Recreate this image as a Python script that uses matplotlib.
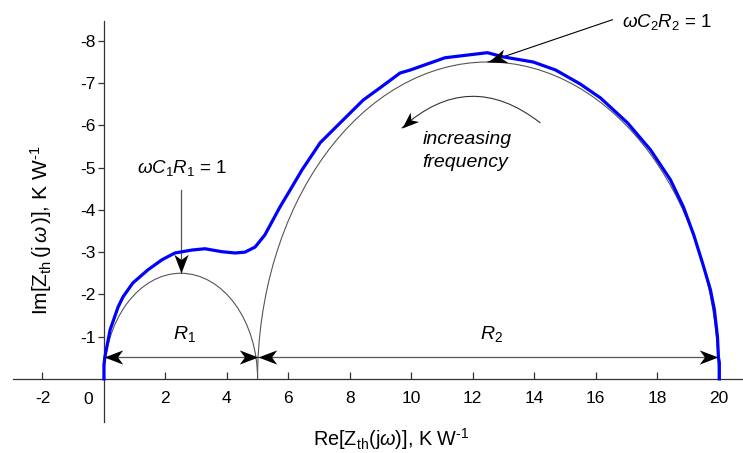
import numpy as np
import matplotlib
matplotlib.use("Agg")
import matplotlib.pyplot as plt
from matplotlib.patches import Arc, FancyArrowPatch
from matplotlib.markers import MarkerStyle
from matplotlib.path import Path
from matplotlib.transforms import Affine2D

plt.rcParams['font.family'] = ['Liberation Sans', 'DejaVu Sans']
plt.rcParams['axes.unicode_minus'] = False
plt.rcParams['mathtext.fontset'] = 'custom'
plt.rcParams['mathtext.rm'] = 'Liberation Sans'
plt.rcParams['mathtext.it'] = 'Liberation Sans:italic'

# thermal impedance locus, K/W
re_z = [0.0, 0.0, 0.03, 0.2, 0.46, 0.62, 0.94, 1.43, 1.89, 2.31, 2.87, 3.29,
        3.84, 4.27, 4.59, 4.92, 5.24, 5.5, 5.73, 6.06, 6.45, 7.04, 7.69, 8.44,
        8.99, 9.64, 9.97, 11.1, 12.48, 13.0, 13.97, 14.7, 15.5, 16.16, 17.04,
        17.79, 18.44, 18.86, 19.2, 19.5, 19.74, 19.87, 19.97, 20.0, 20.03, 20.03]
im_z = [0.0, -0.33, -0.52, -1.16, -1.7, -1.94, -2.27, -2.58, -2.82, -2.98, -3.05, -3.08,
        -3.01, -2.98, -3.0, -3.12, -3.41, -3.76, -4.07, -4.47, -4.95, -5.59, -6.06, -6.6,
        -6.89, -7.24, -7.31, -7.6, -7.72, -7.62, -7.5, -7.31, -6.98, -6.65, -6.06,
        -5.42, -4.71, -4.07, -3.4, -2.7, -2.11, -1.63, -0.99, -0.52, -0.38, 0.0]

# RC stages
R1 = 5.0
R2 = 15.0
dim_y = -0.52

x_ticks = [-2, 2, 4, 6, 8, 10, 12, 14, 16, 18, 20]
y_ticks = [-8, -7, -6, -5, -4, -3, -2, -1]

# concave arrow head, tip at origin, pointing right
HEAD = Path([(0, 0), (-1, 0.38), (-0.72, 0), (-1, -0.38), (0, 0)],
            [Path.MOVETO, Path.LINETO, Path.LINETO, Path.LINETO, Path.CLOSEPOLY])


def head(ax, tip, frm, ms=27):
    p1 = ax.transData.transform(frm)
    p2 = ax.transData.transform(tip)
    ang = np.degrees(np.arctan2(p2[1] - p1[1], p2[0] - p1[0]))
    m = MarkerStyle(HEAD, transform=Affine2D().rotate_deg(ang))
    ax.plot([tip[0]], [tip[1]], marker=m, ms=ms, color='black', mew=0,
            clip_on=False, zorder=6)


fig = plt.figure(figsize=(7.43, 4.53), dpi=100)
ax = fig.add_axes([13 / 743, 31 / 453, 730 / 743, 401 / 453])
ax.set_xlim(-2.96, 20.8)
ax.set_ylim(1.02, -8.47)

for s in ['top', 'right']:
    ax.spines[s].set_visible(False)
ax.spines['left'].set_position(('data', 0))
ax.spines['bottom'].set_position(('data', 0))
for s in ['left', 'bottom']:
    ax.spines[s].set_color('#333333')
    ax.spines[s].set_linewidth(0.9)

ax.set_xticks(x_ticks)
ax.set_yticks(y_ticks)
ax.tick_params(axis='x', direction='in', length=5, width=0.9, color='#333333',
               labelsize=12.5, pad=9)
ax.tick_params(axis='y', direction='out', length=4, width=0.9, color='#333333',
               labelsize=12.5, pad=2)
ax.text(-0.5, 0.32, '0', fontsize=12.5, ha='center', va='top')

# ideal semicircles of each RC stage
ax.add_patch(Arc((R1 / 2, 0), R1, R1, theta1=180, theta2=360,
                 color='#555555', lw=0.8))
ax.add_patch(Arc((R1 + R2 / 2, 0), R2, R2, theta1=180, theta2=360,
                 color='#555555', lw=0.8))

ax.plot(re_z, im_z, color='#0000ff', lw=2.3, zorder=4)

# dimension lines R1, R2
ax.plot([0, R1 + R2], [dim_y, dim_y], color='#555555', lw=0.9, zorder=3)
head(ax, (0, dim_y), (1, dim_y))
head(ax, (R1, dim_y), (R1 - 1, dim_y))
head(ax, (R1, dim_y), (R1 + 1, dim_y))
head(ax, (R1 + R2, dim_y), (R1 + R2 - 1, dim_y))
ax.text(2.25, -0.95, r'$R_1$', fontsize=14)
ax.text(12.25, -0.95, r'$R_2$', fontsize=14)

# omega C1 R1 = 1
top1 = (R1 / 2, -R1 / 2)
ax.plot([top1[0], top1[0]], [-4.48, top1[1]], color='#555555', lw=0.9)
head(ax, top1, (top1[0], -4.48))
ax.text(1.07, -4.88, r'$\omega C_1 R_1$ = 1', fontsize=13.5)

# omega C2 R2 = 1
top2 = (R1 + R2 / 2, -R2 / 2)
ax.plot([16.55, top2[0]], [-8.5, top2[1]], color='black', lw=0.8, clip_on=False)
head(ax, top2, (16.55, -8.5))
ax.text(16.85, -8.33, r'$\omega C_2 R_2$ = 1', fontsize=13.5, clip_on=False)

# increasing frequency
tail = (14.2, -6.06)
tip = (9.7, -5.94)
rad = 0.42
ax.add_patch(FancyArrowPatch(tail, tip, connectionstyle=f'arc3,rad={rad}',
                             arrowstyle='-', color='#333333', lw=0.8,
                             shrinkA=0, shrinkB=0))
pa = ax.transData.transform(tail)
pb = ax.transData.transform(tip)
mid = (pa + pb) / 2
d = pb - pa
ctrl = ax.transData.inverted().transform((mid[0] + rad * d[1], mid[1] - rad * d[0]))
head(ax, tip, ctrl, ms=24)
ax.text(10.36, -5.56, 'increasing', fontsize=14, style='italic')
ax.text(10.36, -5.02, 'frequency', fontsize=14, style='italic')

ax.set_xlabel(r'Re[Z$_{\rm th}$(j$\omega$)], K W$^{\text{-1}}$', fontsize=14.3)
ax.xaxis.set_label_coords(0.518, -0.01)
ax.set_ylabel(r'Im[Z$_{\rm th}\,$(j$\,\omega\,$)], K W$^{\text{-1}}$',
              fontsize=15, va='baseline')
ax.yaxis.set_label_coords(0.047, 0.479)

fig.savefig('out.png', dpi=100)
